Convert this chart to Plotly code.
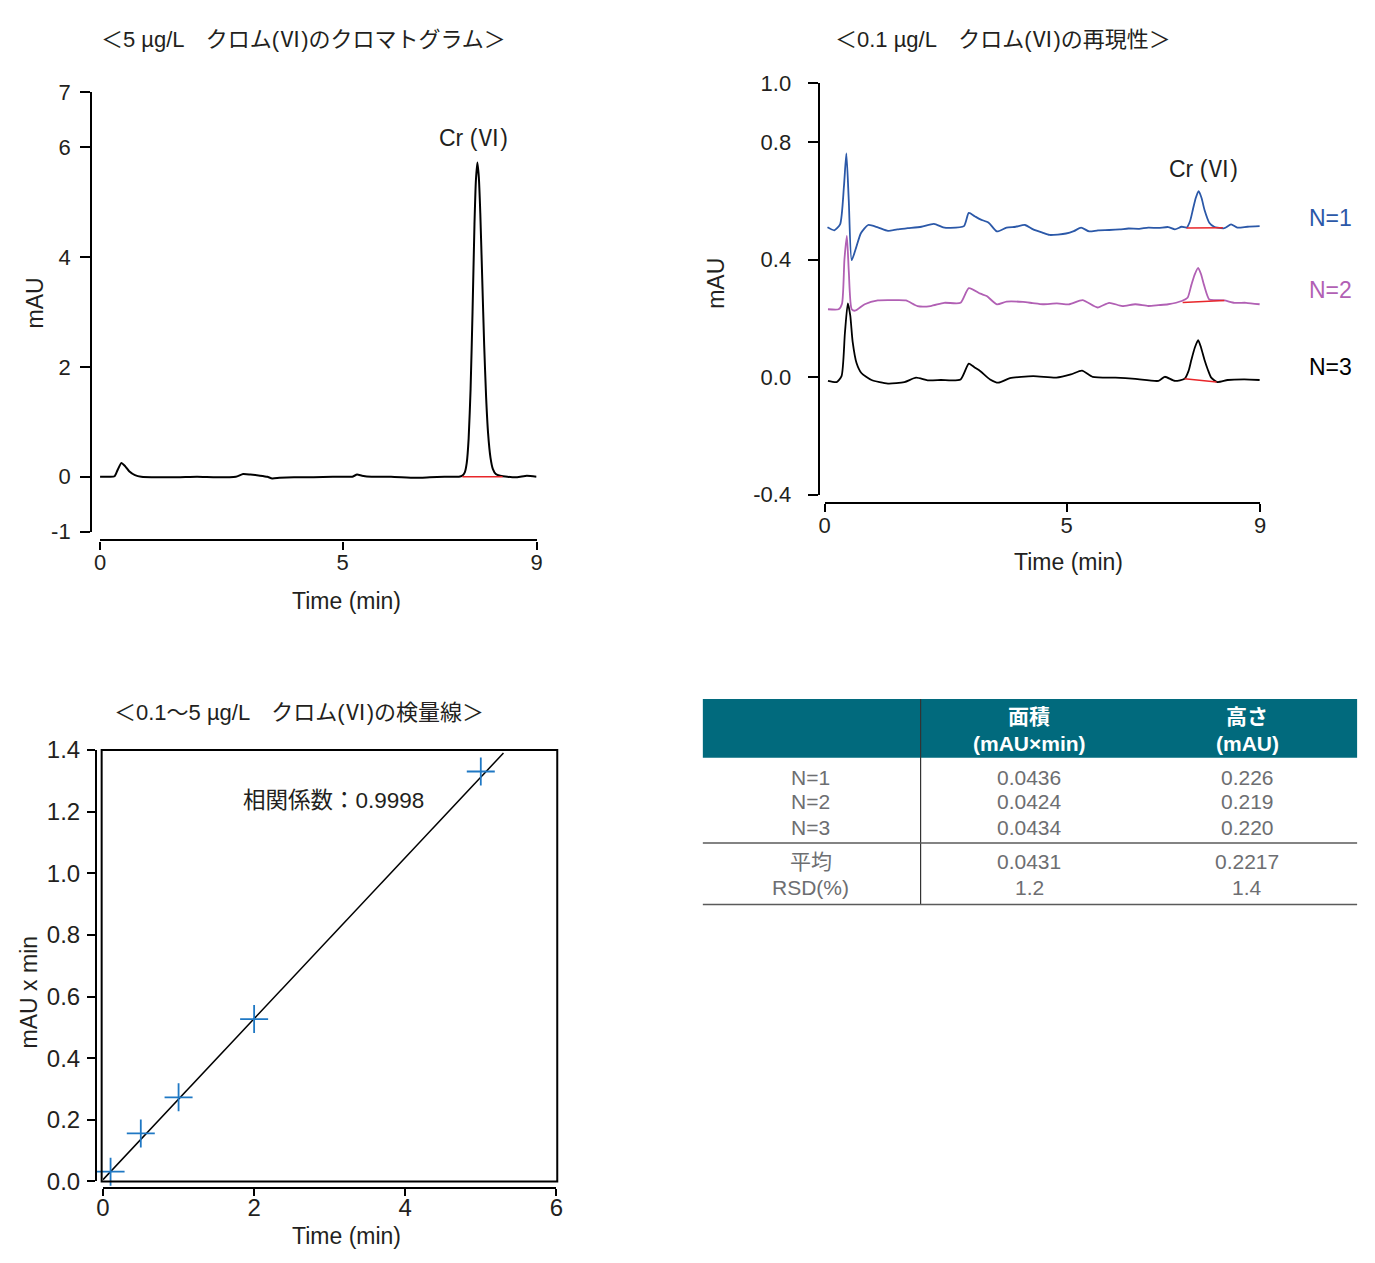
import plotly.graph_objects as go

W, H = 1375, 1263
def px(x): return x / W
def py(y): return 1 - y / H

FONT = "Liberation Sans, Noto Sans CJK JP, sans-serif"
TXT = "#231f20"
VI = "<span style=\"font-family:'Noto Sans CJK JP'\">Ⅵ</span>"

# ---------- Chart 1: 5 µg/L chromatogram ----------
cg_time = [0.0, 0.2, 0.3, 0.36, 0.44, 0.52, 0.6, 0.72, 0.85, 1.2, 1.6, 2.0, 2.4, 2.8, 2.95, 3.1, 3.3,
           3.45, 3.55, 3.7, 4.0, 4.4, 4.8, 5.1, 5.2, 5.3, 5.4, 5.6, 6.0, 6.5, 6.8, 7.1, 7.4, 7.47, 7.52,
           7.56, 7.6, 7.64, 7.68, 7.72, 7.75, 7.78, 7.81, 7.84, 7.88, 7.92, 7.96, 8.0, 8.05, 8.1, 8.16,
           8.25, 8.4, 8.6, 8.8, 9.0]
cg_mau = [0.0, 0.0, 0.01, 0.12, 0.25, 0.19, 0.1, 0.03, 0.0, -0.01, -0.01, 0.0, -0.01, 0.0, 0.05, 0.04, 0.02,
          0.0, -0.03, -0.02, -0.01, -0.01, 0.0, 0.0, 0.0, 0.04, 0.02, 0.0, 0.0, -0.02, -0.01, 0.0, 0.0, 0.02, 0.08,
          0.25, 0.7, 1.6, 3.0, 4.6, 5.4, 5.72, 5.45, 4.8, 3.6, 2.4, 1.45, 0.8, 0.35, 0.14, 0.05,
          0.02, 0.0, -0.01, 0.02, 0.0]
cg_base_t = [7.47, 8.3]
cg_base_v = [0.0, 0.0]
cg_yticks = [-1, 0, 2, 4, 6, 7]
cg_yticklabels = ["-1", "0", "2", "4", "6", "7"]
cg_xticks = [0, 5, 9]

# ---------- Chart 2: 0.1 µg/L repeatability ----------
n1_t = [0.06, 0.2, 0.32, 0.4, 0.45, 0.5, 0.56, 0.65, 0.75, 0.9, 1.1, 1.31, 1.5, 1.72, 2.0, 2.26, 2.45, 2.6,
        2.88, 2.98, 3.1, 3.22, 3.39, 3.56, 3.76, 3.95, 4.14, 4.31, 4.5, 4.65, 4.99, 5.15, 5.3, 5.47, 5.65,
        5.88, 6.1, 6.28, 6.5, 6.69, 6.9, 7.1, 7.24, 7.38, 7.48, 7.55, 7.61, 7.67, 7.73, 7.79, 7.85, 7.95,
        8.05, 8.12, 8.26, 8.4, 8.53, 8.74, 8.99]
n1_v = [0.51, 0.5, 0.52, 0.65, 0.762, 0.6, 0.398, 0.44, 0.49, 0.518, 0.51, 0.498, 0.503, 0.507, 0.512, 0.522,
        0.51, 0.508, 0.514, 0.559, 0.548, 0.537, 0.526, 0.496, 0.509, 0.512, 0.518, 0.503, 0.492, 0.484,
        0.489, 0.497, 0.509, 0.496, 0.5, 0.501, 0.503, 0.506, 0.505, 0.509, 0.508, 0.511, 0.503, 0.512,
        0.509, 0.53, 0.57, 0.61, 0.633, 0.61, 0.57, 0.526, 0.512, 0.509, 0.507, 0.52, 0.509, 0.512, 0.514]
n1_base_t = [7.48, 8.23]
n1_base_v = [0.508, 0.509]

n2_t = [0.07, 0.29, 0.36, 0.41, 0.46, 0.5, 0.56, 0.63, 0.83, 1.1, 1.4, 1.68, 1.92, 2.19, 2.47, 2.81, 2.98,
        3.22, 3.35, 3.56, 3.76, 4.1, 4.3, 4.51, 4.8, 5.06, 5.33, 5.64, 5.88, 6.15, 6.42, 6.69, 6.9, 7.1,
        7.38, 7.5, 7.58, 7.65, 7.72, 7.78, 7.84, 7.95, 8.1, 8.26, 8.47, 8.71, 8.99]
n2_v = [0.231, 0.231, 0.25, 0.4, 0.481, 0.36, 0.231, 0.226, 0.248, 0.261, 0.262, 0.261, 0.242, 0.242,
        0.253, 0.253, 0.303, 0.284, 0.276, 0.248, 0.257, 0.256, 0.252, 0.248, 0.251, 0.248, 0.262, 0.237,
        0.253, 0.242, 0.248, 0.242, 0.245, 0.248, 0.259, 0.27, 0.314, 0.35, 0.372, 0.35, 0.314, 0.264,
        0.262, 0.261, 0.253, 0.253, 0.248]
n2_base_t = [7.4, 8.26]
n2_base_v = [0.254, 0.261]

n3_t = [0.07, 0.25, 0.35, 0.42, 0.48, 0.53, 0.58, 0.66, 0.76, 0.97, 1.31, 1.65, 1.89, 2.13, 2.4, 2.81,
        2.98, 3.1, 3.22, 3.42, 3.59, 3.83, 4.31, 4.79, 5.09, 5.32, 5.54, 6.01, 6.42, 6.9, 7.03, 7.24, 7.44,
        7.52, 7.58, 7.65, 7.72, 7.78, 7.85, 7.92, 7.99, 8.12, 8.33, 8.67, 8.99]
n3_v = [-0.013, -0.017, 0.003, 0.15, 0.251, 0.21, 0.12, 0.048, 0.014, -0.01, -0.022, -0.017, -0.002,
        -0.011, -0.01, -0.008, 0.046, 0.033, 0.02, -0.008, -0.019, -0.004, 0.003, -0.002, 0.009, 0.022,
        0.001, -0.002, -0.006, -0.013, 0.001, -0.013, -0.006, 0.02, 0.059, 0.1, 0.126, 0.1, 0.059, 0.025,
        -0.002, -0.017, -0.01, -0.008, -0.01]
n3_base_t = [7.44, 8.1]
n3_base_v = [-0.006, -0.017]
rep_yticks = [-0.4, 0.0, 0.4, 0.8, 1.0]
rep_yticklabels = ["-0.4", "0.0", "0.4", "0.8", "1.0"]
rep_xticks = [0, 5, 9]
rep_labels = ["N=1", "N=2", "N=3"]

# ---------- Chart 3: calibration curve ----------
cal_x = [0.1, 0.5, 1.0, 2.0, 5.0]
cal_y = [0.032, 0.156, 0.273, 0.527, 1.33]
fit_x = [0.0, 5.3]
fit_y = [0.006, 1.39]
cal_yticks = [0.0, 0.2, 0.4, 0.6, 0.8, 1.0, 1.2, 1.4]
cal_xticks = [0, 2, 4, 6]
corr_text = "相関係数：0.9998"

# ---------- Table ----------
tbl_head = ["面積", "高さ"]
tbl_unit = ["(mAU×min)", "(mAU)"]
tbl_rows = ["N=1", "N=2", "N=3", "平均", "RSD(%)"]
tbl_area = ["0.0436", "0.0424", "0.0434", "0.0431", "1.2"]
tbl_height = ["0.226", "0.219", "0.220", "0.2217", "1.4"]

BLUE = "#2b58a8"
PURPLE = "#b160b4"
RED = "#e8262a"

fig = go.Figure()

# chart 1
fig.add_trace(go.Scatter(x=cg_time, y=cg_mau, mode="lines",
                         line=dict(color="black", width=2, shape="spline", smoothing=0.5),
                         xaxis="x", yaxis="y", showlegend=False))
fig.add_trace(go.Scatter(x=cg_base_t, y=cg_base_v, mode="lines", line=dict(color=RED, width=1.5),
                         xaxis="x", yaxis="y", showlegend=False))
# chart 2
for t, v, c in [(n1_t, n1_v, BLUE), (n2_t, n2_v, PURPLE), (n3_t, n3_v, "black")]:
    fig.add_trace(go.Scatter(x=t, y=v, mode="lines",
                             line=dict(color=c, width=1.8, shape="spline", smoothing=0.6),
                             xaxis="x2", yaxis="y2", showlegend=False))
for t, v in [(n1_base_t, n1_base_v), (n2_base_t, n2_base_v), (n3_base_t, n3_base_v)]:
    fig.add_trace(go.Scatter(x=t, y=v, mode="lines", line=dict(color=RED, width=1.5),
                             xaxis="x2", yaxis="y2", showlegend=False))
# chart 3
fig.add_trace(go.Scatter(x=fit_x, y=fit_y, mode="lines", line=dict(color="black", width=1.5),
                         xaxis="x3", yaxis="y3", showlegend=False))
fig.add_trace(go.Scatter(x=cal_x, y=cal_y, mode="markers",
                         marker=dict(symbol="cross-thin", size=20, line=dict(width=1.8, color="#1f78c4")),
                         xaxis="x3", yaxis="y3", showlegend=False, cliponaxis=False))

def ax(size, standoff, ticklen=9):
    return dict(showgrid=False, zeroline=False, showline=True, linecolor="black", linewidth=2.2,
                ticks="outside", ticklen=ticklen, tickwidth=2.2, tickcolor="black",
                ticklabelstandoff=standoff,
                tickfont=dict(family=FONT, size=size, color=TXT), anchor="free")

fig.update_layout(
    width=W, height=H, margin=dict(l=0, r=0, t=0, b=0),
    paper_bgcolor="white", plot_bgcolor="white",
    xaxis=dict(ax(22, -6, 8), domain=[px(94), px(535)], range=[0, 9], position=py(538),
               tickvals=cg_xticks),
    yaxis=dict(ax(22, 5, 10), domain=[py(529), py(80)], range=[-1, 7], position=px(85),
               tickvals=cg_yticks, ticktext=cg_yticklabels),
    xaxis2=dict(ax(22, -6, 8), domain=[px(826), px(1266)], range=[0, 9], position=py(500),
                tickvals=rep_xticks),
    yaxis2=dict(ax(22, 12, 10), domain=[py(491), py(71)], range=[-0.4, 1.0], position=px(820),
                tickvals=rep_yticks, ticktext=rep_yticklabels),
    xaxis3=dict(ax(24, -9, 7), domain=[px(97), px(555)], range=[0, 6], position=py(1200),
                tickvals=cal_xticks),
    yaxis3=dict(ax(24, 2, 8), domain=[py(1193), py(752)], range=[0, 1.4], position=px(90),
                tickvals=cal_yticks, tickformat=".1f"),
)

shapes = []
shapes.append(dict(type="rect", xref="x3 domain", yref="y3 domain", x0=-0.003, x1=1.002, y0=0, y1=1,
                   line=dict(color="black", width=2)))
shapes.append(dict(type="rect", xref="paper", yref="paper", x0=px(703), x1=px(1364), y0=py(760), y1=py(700),
                   fillcolor="#016a7d", line=dict(width=0), layer="below"))
shapes.append(dict(type="line", xref="paper", yref="paper", x0=px(923), x1=px(923), y0=py(700), y1=py(910),
                   line=dict(color="#333333", width=1.2)))
shapes.append(dict(type="line", xref="paper", yref="paper", x0=px(703), x1=px(1364), y0=py(847), y1=py(847),
                   line=dict(color="#5a5a5a", width=1.5)))
shapes.append(dict(type="line", xref="paper", yref="paper", x0=px(703), x1=px(1364), y0=py(910), y1=py(910),
                   line=dict(color="#5a5a5a", width=1.5)))
fig.update_layout(shapes=shapes)

ann = []
def paper_text(x, y, text, size=20, color=TXT, angle=0, bold=False, family=FONT):
    ann.append(dict(x=px(x), y=py(y), xref="paper", yref="paper", text=("<b>%s</b>" % text) if bold else text,
                    showarrow=False, textangle=angle, xanchor="center", yanchor="middle",
                    font=dict(family=family, size=size, color=color)))

# titles
paper_text(300, 23, "＜5 µg/L　クロム(" + VI + ")のクロマトグラム＞", size=22)
paper_text(1006, 23, "＜0.1 µg/L　クロム(" + VI + ")の再現性＞", size=22)
paper_text(295, 711, "＜0.1～5 µg/L　クロム(" + VI + ")の検量線＞", size=22)
# axis titles
paper_text(28, 295, "mAU", size=23, angle=-90)
paper_text(716, 275, "mAU", size=23, angle=-90)
paper_text(22, 1000, "mAU x min", size=23, angle=-90)
paper_text(343, 600, "Time (min)", size=23)
paper_text(1072, 560, "Time (min)", size=23)
paper_text(343, 1249, "Time (min)", size=23)

# in-plot labels
ann.append(dict(x=7.7, y=6.2, xref="x", yref="y", text="Cr (" + VI + ")", showarrow=False,
                font=dict(family=FONT, size=23, color=TXT)))
ann.append(dict(x=7.83, y=0.717, xref="x2", yref="y2", text="Cr (" + VI + ")", showarrow=False,
                font=dict(family=FONT, size=23, color=TXT)))
for lab, ypix, c in zip(rep_labels, [208, 282, 361], [BLUE, PURPLE, "black"]):
    paper_text(1337, ypix, lab, size=23, color=c)
ann.append(dict(x=3.05, y=1.235, xref="x3", yref="y3", text=corr_text, showarrow=False,
                font=dict(family=FONT, size=22.5, color=TXT)))

# table text
col_x = [1033, 1253]
for i in range(2):
    paper_text(col_x[i], 718, tbl_head[i], size=21, color="white", bold=True)
    paper_text(col_x[i], 745, tbl_unit[i], size=21, color="white", bold=True)
row_y = [780, 805, 831, 866, 893]
GRAY = "#6d6e71"
for j in range(len(tbl_rows)):
    paper_text(812, row_y[j], tbl_rows[j], size=21, color=GRAY)
    paper_text(col_x[0], row_y[j], tbl_area[j], size=21, color=GRAY)
    paper_text(col_x[1], row_y[j], tbl_height[j], size=21, color=GRAY)

fig.update_layout(annotations=ann)
fig.write_html("out.html", config={"displayModeBar": False},
               post_script="document.body.style.margin='0';")
